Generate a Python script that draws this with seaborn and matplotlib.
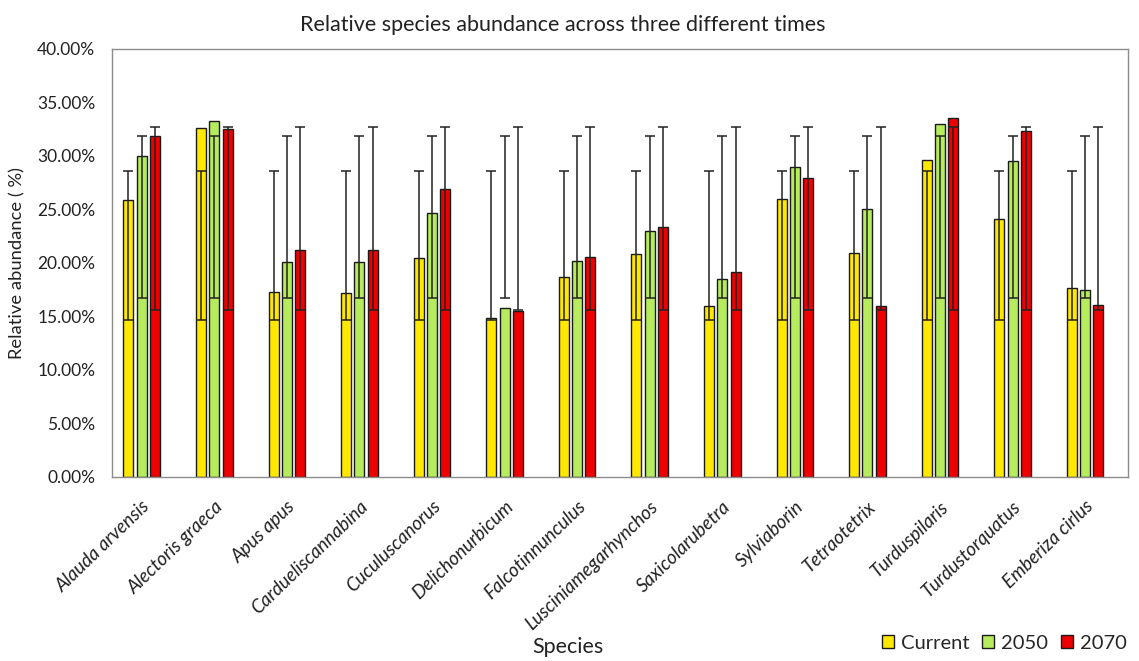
import numpy as np
import pandas as pd
import matplotlib
matplotlib.use("Agg")
import matplotlib.pyplot as plt
from matplotlib.ticker import FuncFormatter, MultipleLocator
from matplotlib.patches import Patch
import seaborn as sns

species = ["Alauda arvensis", "Alectoris graeca", "Apus apus", "Cardueliscannabina",
           "Cuculuscanorus", "Delichonurbicum", "Falcotinnunculus", "Lusciniamegarhynchos",
           "Saxicolarubetra", "Sylviaborin", "Tetraotetrix", "Turduspilaris",
           "Turdustorquatus", "Emberiza cirlus"]
series = ["Current", "2050", "2070"]
current = [25.9, 32.65, 17.26, 17.2, 20.47, 14.86, 18.72, 20.84, 16.01, 26.0, 20.9, 29.66, 24.14, 17.66]
y2050 = [30.0, 33.24, 20.12, 20.1, 24.7, 15.79, 20.22, 23.02, 18.5, 28.97, 25.08, 33.02, 29.53, 17.5]
y2070 = [31.87, 32.52, 21.21, 21.2, 26.95, 15.55, 20.53, 23.4, 19.16, 27.9, 16.0, 33.52, 32.3, 16.07]
# error bars (same for every species within a series): centre and half-width
err_center = [21.6, 24.29, 24.16]
err_half = [6.97, 7.58, 8.58]

colors = ["#FFE800", "#B5EB5C", "#EE0000"]

df = pd.DataFrame({
    "Species": species * 3,
    "Series": [s for s in series for _ in species],
    "Value": current + y2050 + y2070,
})

sns.set_theme(style="white")
plt.rcParams["font.family"] = ["Lato", "DejaVu Sans"]

fig = plt.figure(figsize=(11.39, 6.61), dpi=100)
ax = fig.add_axes([0.0983, 0.2784, 0.8920, 0.6475])

sns.barplot(data=df, x="Species", y="Value", hue="Series", order=species,
            hue_order=series, palette=colors, width=0.55, gap=0.245,
            edgecolor="#1a1a1a", linewidth=1.0, saturation=1, legend=False, ax=ax)

bar_containers = list(ax.containers)
for i, cont in enumerate(bar_containers):
    xs = [b.get_x() + b.get_width() / 2 for b in cont.patches]
    ax.errorbar(xs, [err_center[i]] * len(xs), yerr=[err_half[i]] * len(xs),
                fmt="none", ecolor="#222222", elinewidth=1.1, capsize=3.5,
                capthick=1.1, zorder=5)

ax.set_ylim(0, 40)
ax.set_xlim(-0.41, len(species) - 0.41)
ax.yaxis.set_major_locator(MultipleLocator(5))
ax.yaxis.set_major_formatter(FuncFormatter(lambda v, p: f"{v:.2f}%"))
ax.tick_params(axis="both", length=0, colors="#222222")
ax.tick_params(axis="y", labelsize=12.5, pad=12)
ax.set_xticks(range(len(species)))
ax.set_xticklabels(species, rotation=44, ha="right", rotation_mode="anchor",
                   fontsize=13.5, fontstyle="italic")
ax.tick_params(axis="x", pad=15)
for s in ax.spines.values():
    s.set_color("#8c8c8c")
    s.set_linewidth(1.0)

ax.set_ylabel("Relative abundance ( %)", fontsize=13.2, color="#222222", labelpad=8)
ax.set_xlabel("")
fig.text(0.499, 0.012, "Species", ha="center", va="baseline", fontsize=15.5, color="#222222")
fig.text(0.494, 0.953, "Relative species abundance across three different times",
         ha="center", va="baseline", fontsize=15.5, color="#222222")

handles = [Patch(facecolor=c, edgecolor="#1a1a1a", linewidth=1.0) for c in colors]
fig.legend(handles, series, loc="lower right", bbox_to_anchor=(1.0, -0.004), ncol=3,
           frameon=False, fontsize=14.5, handlelength=0.62, handleheight=0.62,
           handletextpad=0.35, columnspacing=0.6, borderaxespad=0.2)

fig.savefig("out.png", dpi=100)
